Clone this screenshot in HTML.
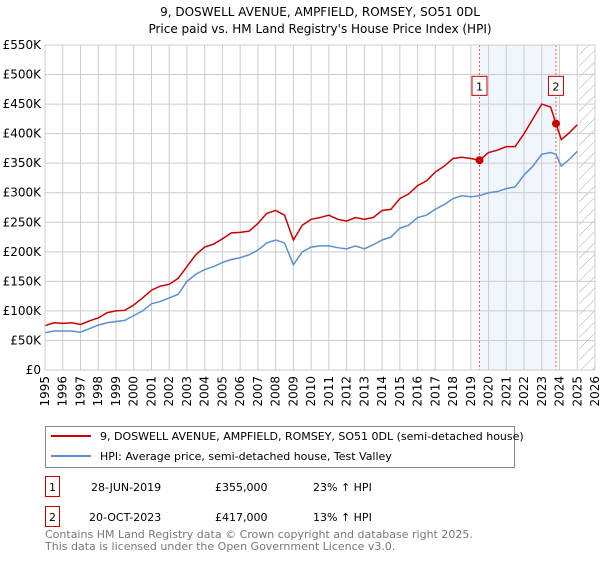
<!DOCTYPE html>
<html><head><meta charset="utf-8"><style>
body{margin:0;background:#fff;font-family:"Liberation Sans","DejaVu Sans",sans-serif;}
svg text{font-family:"DejaVu Sans","Liberation Sans",sans-serif;}
</style></head><body>
<svg id="c" width="600" height="560" xmlns="http://www.w3.org/2000/svg">
<text x="320" y="16" font-size="12" text-anchor="middle">9, DOSWELL AVENUE, AMPFIELD, ROMSEY, SO51 0DL</text>
<text x="320" y="33" font-size="12" text-anchor="middle">Price paid vs. HM Land Registry's House Price Index (HPI)</text>
<g id="plot"></g>
<g>
<rect x="45.5" y="426.5" width="469" height="41" fill="#fff" stroke="#888"/>
<line x1="51" y1="436" x2="91" y2="436" stroke="#cc0000" stroke-width="2"/>
<text x="100" y="440" font-size="11">9, DOSWELL AVENUE, AMPFIELD, ROMSEY, SO51 0DL (semi-detached house)</text>
<line x1="51" y1="456" x2="91" y2="456" stroke="#5b8fd0" stroke-width="2"/>
<text x="100" y="460" font-size="11">HPI: Average price, semi-detached house, Test Valley</text>
</g>
<g font-size="11">
<rect x="45.5" y="476.5" width="14" height="20" fill="#fff" stroke="#cc0000"/>
<text x="52.5" y="491" text-anchor="middle">1</text>
<text x="91" y="491">28-JUN-2019</text><text x="215" y="491">£355,000</text><text x="313" y="491">23% ↑ HPI</text>
<rect x="45.5" y="506.5" width="14" height="20" fill="#fff" stroke="#cc0000"/>
<text x="52.5" y="521" text-anchor="middle">2</text>
<text x="89" y="521">20-OCT-2023</text><text x="215" y="521">£417,000</text><text x="313" y="521">13% ↑ HPI</text>
</g>
<text x="45" y="538" font-size="11" fill="#777">Contains HM Land Registry data © Crown copyright and database right 2025.</text>
<text x="45" y="550" font-size="11" fill="#777">This data is licensed under the Open Government Licence v3.0.</text>
</svg>
<script>
const yTicks=[0,50,100,150,200,250,300,350,400,450,500,550];
const xYears=[1995,1996,1997,1998,1999,2000,2001,2002,2003,2004,2005,2006,2007,2008,2009,2010,2011,2012,2013,2014,2015,2016,2017,2018,2019,2020,2021,2022,2023,2024,2025,2026];
const redT=[1995,1995.5,1996,1996.5,1997,1997.5,1998,1998.5,1999,1999.5,2000,2000.5,2001,2001.5,2002,2002.5,2003,2003.5,2004,2004.5,2005,2005.5,2006,2006.5,2007,2007.5,2008,2008.5,2009,2009.5,2010,2010.5,2011,2011.5,2012,2012.5,2013,2013.5,2014,2014.5,2015,2015.5,2016,2016.5,2017,2017.5,2018,2018.5,2019,2019.49,2020,2020.5,2021,2021.5,2022,2022.5,2023,2023.5,2023.8,2024.1,2024.5,2025];
const redV=[75,80,79,80,77,83,88,97,100,101,110,122,135,142,145,155,175,195,208,213,222,232,233,235,248,265,270,262,220,245,255,258,262,255,252,258,255,258,270,272,290,298,312,320,335,345,358,360,358,355,368,372,378,378,400,425,450,445,417,390,400,415];
const blueT=redT;
const blueV=[63,66,66,66,64,70,76,80,82,84,92,100,112,116,122,128,150,162,170,175,182,187,190,195,203,215,220,215,178,200,208,210,210,207,205,210,205,212,220,225,240,245,258,262,272,280,290,295,293,295,300,302,307,310,330,345,365,368,365,345,355,370];
const sales=[[2019.49,355,"1"],[2023.8,417,"2"]];
const NS="http://www.w3.org/2000/svg";
const X0=45,X1=595,Y0=370,Y1=45;
const sx=t=>X0+(t-1995)/(2026-1995)*(X1-X0);
const sy=v=>Y0-v/550*(Y0-Y1);
const g=document.getElementById('plot');
function mk(tag,a){const e=document.createElementNS(NS,tag);for(const k in a)e.setAttribute(k,a[k]);g.appendChild(e);return e;}
let e=mk('rect',{x:sx(2019.49),y:Y1,width:sx(2023.8)-sx(2019.49),height:Y0-Y1,fill:'#eef3fc',opacity:0.8});


const defs=document.createElementNS(NS,'defs');defs.innerHTML='<pattern id="h" width="8" height="8" patternUnits="userSpaceOnUse" patternTransform="rotate(45)"><line x1="0" y1="0" x2="0" y2="8" stroke="#aaa" stroke-width="1"/></pattern>';g.appendChild(defs);
e=mk('rect',{x:sx(2025.1),y:Y1,width:X1-sx(2025.1),height:Y0-Y1,fill:'url(#h)'});


yTicks.forEach(v=>{mk('line',{x1:X0,x2:X1,y1:sy(v),y2:sy(v),stroke:'#ccc'});
e=mk('text',{x:X0-4,y:sy(v)+4,'font-size':12,'text-anchor':'end'});e.textContent='£'+(v?v+'K':'0');

});
xYears.forEach(y=>{mk('line',{x1:sx(y),x2:sx(y),y1:Y1,y2:Y0,stroke:'#ccc'});
e=mk('text',{x:sx(y)+4,y:Y0+6,'font-size':12,'text-anchor':'end',transform:`rotate(-90 ${sx(y)+4} ${Y0+6})`});e.textContent=y;

});
sales.forEach(s=>{mk('line',{x1:sx(s[0]),x2:sx(s[0]),y1:Y1,y2:Y0,stroke:'#e55','stroke-dasharray':'2,2'});});
function line(T,V,c,n){const p=mk('polyline',{points:T.map((t,i)=>sx(t)+','+sy(V[i])).join(' '),fill:'none',stroke:c,'stroke-width':1.5});

}
line(blueT,blueV,'#5b8fd0','hpi-line');
line(redT,redV,'#cc0000','price-line');
sales.forEach(s=>{e=mk('circle',{cx:sx(s[0]),cy:sy(s[1]),r:4,fill:'#cc0000'});


mk('rect',{x:sx(s[0])-7.5,y:sy(480)-10,width:15,height:19,fill:'#fff',stroke:'#cc0000'});
const t=mk('text',{x:sx(s[0]),y:sy(480)+4,'font-size':11,'text-anchor':'middle'});t.textContent=s[2];

});
mk('rect',{x:X0,y:Y1,width:X1-X0,height:Y0-Y1,fill:'none',stroke:'#ccc'});
</script>
</body></html>
